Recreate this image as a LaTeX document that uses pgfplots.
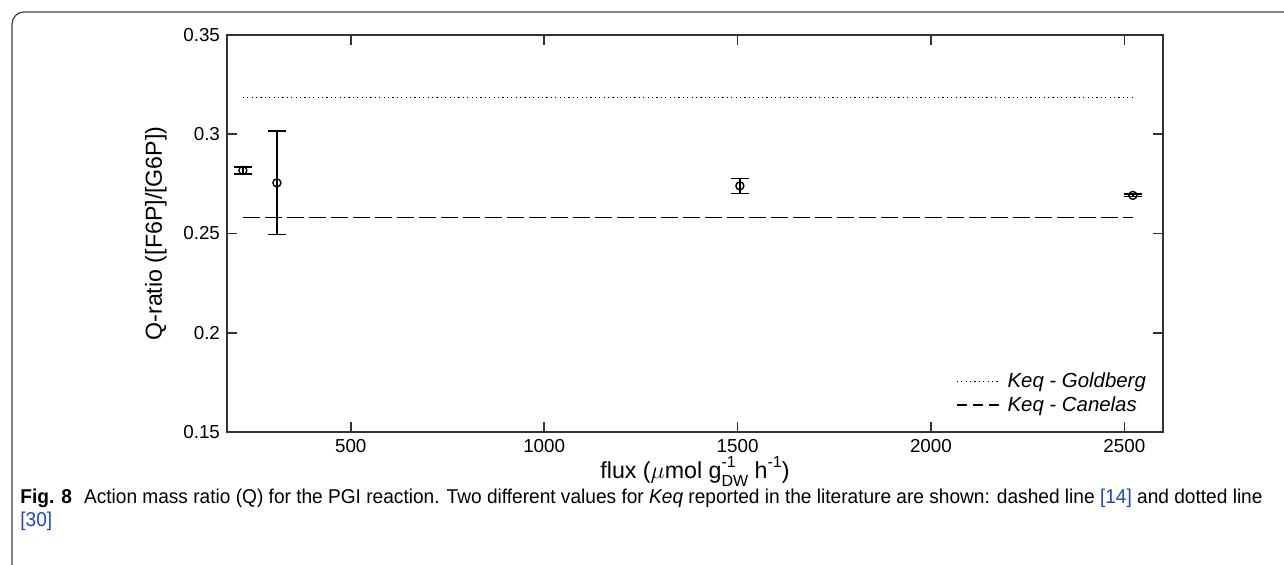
\documentclass[border=0pt]{standalone}
\usepackage{pgfplots}
\pgfplotsset{compat=1.18}
\usepackage{amsmath}
\usepackage{fontspec}
\setmainfont{Liberation Sans}
\newfontfamily\capfont[FakeStretch=0.955]{Liberation Sans}
\definecolor{citeblue}{RGB}{30,70,200}

\begin{document}
\begin{tikzpicture}
\useasboundingbox (0,0) rectangle (642pt,282.5pt);
% figure frame
\draw[black!75, line width=0.6pt, rounded corners=6pt] (6pt,-2pt) -- (6pt,276.5pt) -- (645pt,276.5pt);

\begin{axis}[
    at={(113.5pt,66.5pt)}, anchor=south west,
    scale only axis,
    width=468pt, height=198.5pt,
    xmin=180, xmax=2600,
    ymin=0.15, ymax=0.35,
    xtick={500,1000,1500,2000,2500},
    ytick={0.15,0.2,0.25,0.3,0.35},
    /pgf/number format/1000 sep={},
    /pgf/number format/assume math mode=true,
    tick align=inside,
    major tick length=5pt,
    axis line style={black!80, line width=0.9pt},
    every tick/.style={black!80, line width=0.8pt},
    tick label style={font=\fontsize{9.4}{11}\selectfont},
    xlabel={flux ($\mu$mol g\rlap{\raisebox{0.45em}{\fontsize{8}{9}\selectfont -1}}\raisebox{-0.35em}{\fontsize{8}{9}\selectfont DW} h\raisebox{0.45em}{\fontsize{8}{9}\selectfont -1})},
    ylabel={Q-ratio ([F6P]/[G6P])},
    label style={font=\fontsize{11.6}{13}\selectfont},
    xlabel style={at={(axis description cs:0.5,-0.1)}, anchor=center},
    ylabel style={at={(axis description cs:-0.076,0.5)}, anchor=center},
    legend style={draw=none, fill=none, at={(0.986,0.035)}, anchor=south east,
        font=\fontsize{10.2}{12}\selectfont\itshape, row sep=-1pt,
        inner sep=0pt, outer sep=0pt},
    legend cell align=left,
]

% Keq - Goldberg
\addplot[black, line width=0.6pt, dash pattern=on 0.6pt off 1.6pt,
    legend image code/.code={\draw[black, line width=0.6pt, dash pattern=on 0.6pt off 1.6pt] (0pt,0pt) -- (22pt,0pt);}]
    coordinates {(221,0.3187) (2522,0.3187)};
\addlegendentry{Keq - Goldberg}

% Keq - Canelas
\addplot[black, line width=0.8pt, dash pattern=on 8.5pt off 2.5pt,
    legend image code/.code={\draw[black, line width=0.8pt, dash pattern=on 5pt off 3pt] (0pt,0pt) -- (23pt,0pt);}]
    coordinates {(221,0.2581) (2522,0.2581)};
\addlegendentry{Keq - Canelas}

% measured Q-ratio with error bars
\addplot[black, only marks, mark=o, mark size=2pt, line width=0.7pt,
    error bars/.cd, y dir=both, y explicit,
    error bar style={line width=0.8pt, black},
    error mark options={rotate=90, mark size=4.5pt, line width=0.8pt, black}]
    coordinates {
    (221,0.2818) +- (0,0.0018)
    (309,0.2755) +- (0,0.0261)
    (1506,0.2740) +- (0,0.0038)
    (2522,0.2692) +- (0,0.0006)
    };

\end{axis}

% caption
\node[anchor=base west, inner sep=0pt] at (10pt,30.5pt)
    {\capfont\fontsize{10}{12}\selectfont\textbf{Fig. 8}\hspace{6pt}Action mass ratio (Q) for the PGI reaction. Two different values for \textit{Keq} reported in the literature are shown: dashed line \textcolor{citeblue}{[14]} and dotted line};
\node[anchor=base west, inner sep=0pt] at (10pt,19pt)
    {\capfont\fontsize{10}{12}\selectfont\textcolor{citeblue}{[30]}};
\end{tikzpicture}
\end{document}
